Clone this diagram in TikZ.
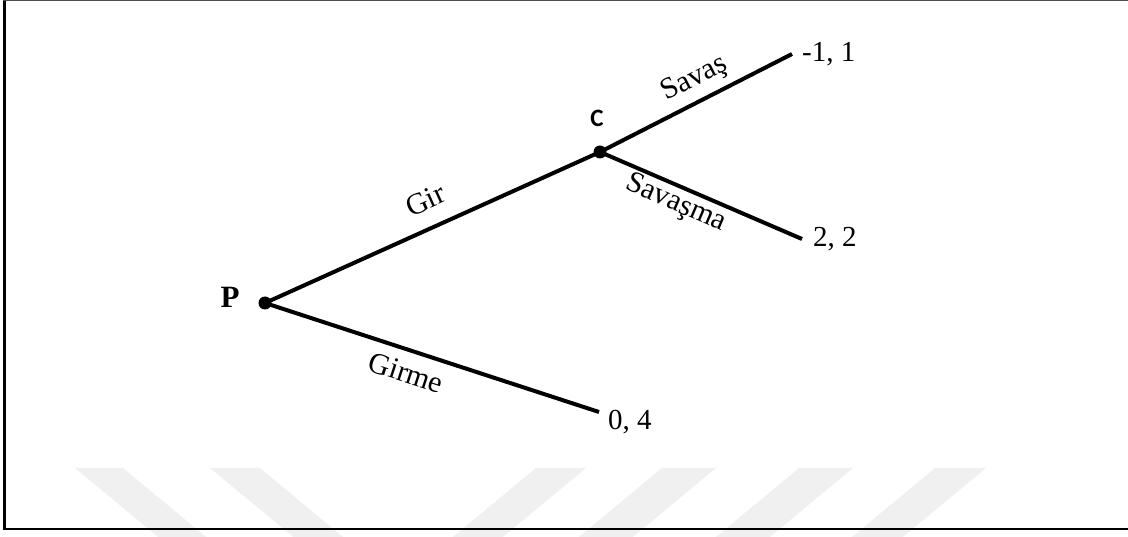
\documentclass[tikz,border=0pt]{standalone}
\usepackage{fontspec}
\setmainfont{Liberation Serif}
\newfontfamily\calfont{Carlito}
\begin{document}
\begin{tikzpicture}[x=1pt,y=1pt,
  edge/.style={line width=4pt},
  dot/.style={circle,fill=black,inner sep=0pt,minimum size=13pt},
  lbl/.style={font=\fontsize{30}{35}\selectfont, sloped},
  pay/.style={font=\fontsize{29}{34}\selectfont, anchor=base west, inner sep=0pt},
  wm/.style={fill=black!6, draw=none}]
\useasboundingbox (0,0) rectangle (1128,536);
% watermark
\fill[wm] (75,68) -- (123,68) -- (211,-5) -- (163,-5) -- cycle;
\fill[wm] (210,68) -- (260,68) -- (348,-5) -- (298,-5) -- cycle;
\fill[wm] (536,68) -- (586,68) -- (498,-5) -- (448,-5) -- cycle;
\fill[wm] (662,68) -- (716,68) -- (628,-5) -- (574,-5) -- cycle;
\fill[wm] (799,68) -- (853,68) -- (765,-5) -- (711,-5) -- cycle;
\fill[wm] (935,68) -- (986,68) -- (898,-5) -- (847,-5) -- cycle;
% frame
\draw[line width=2.5pt] (1140,7) -- (4.5,7) -- (4.5,535);
\draw[line width=1.5pt, black!70] (3.25,535.5) -- (1140,535.5);
% tree
\node[dot] (P) at (265,233) {};
\node[dot] (C) at (600,384) {};
\coordinate (E1) at (792,482);
\coordinate (E2) at (802,297);
\coordinate (E3) at (599,124);
\draw[edge] (P.center) -- node[lbl, pos=.513, above, inner sep=16pt] {Gir} (C.center);
\draw[edge] (C.center) -- node[lbl, pos=.544, above, inner sep=7pt] {Savaş} (E1);
\draw[edge] (C.center) -- node[lbl, pos=.41, below, inner sep=2.5pt] {Savaşma} (E2);
\draw[edge] (P.center) -- node[lbl, pos=.443, below, inner sep=10.5pt] {Girme} (E3);
\node[font=\bfseries\fontsize{31}{36}\selectfont] (Plab) at (230,239) {P};
\node[font=\calfont\bfseries\fontsize{25}{30}\selectfont] (Clab) at (597,418) {C};
\node[pay] (pay1) at (802,474) {-1, 1};
\node[pay] (pay2) at (813,289) {2, 2};
\node[pay] (pay3) at (608,106) {0, 4};
\end{tikzpicture}
\end{document}
